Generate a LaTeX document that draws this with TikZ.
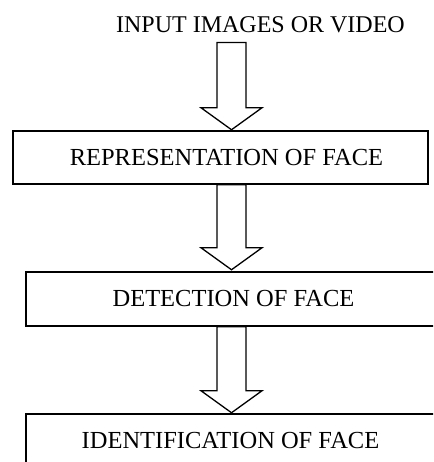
\documentclass[tikz,border=0pt]{standalone}
\usepackage{fontspec}
\setmainfont{Liberation Serif}
\usetikzlibrary{calc}
\tikzset{
  boxnode/.style={draw, line width=1.5pt, inner sep=0pt, font=\fontsize{24.5}{29}\selectfont},
  titlenode/.style={inner sep=0pt, font=\fontsize{24}{28}\selectfont},
  blockarr/.style={draw, line width=1.3pt, fill=white, line join=miter}
}
\newcommand\blockarrow[2]{%
  \draw[blockarr] ($(#1)+(-14.5,0)$) -- ($(#2)+(-14.5,-22)$) -- ($(#2)+(-30.5,-22)$) -- (#2)
    -- ($(#2)+(30.5,-22)$) -- ($(#2)+(14.5,-22)$) -- ($(#1)+(14.5,0)$) -- cycle;}
\begin{document}
\begin{tikzpicture}[x=1pt,y=-1pt]
\useasboundingbox (0,0) rectangle (433,462);
\clip (0,0) rectangle (433,462);
\coordinate (ax) at (231.5,0);
\node[titlenode, anchor=base] (title) at (260.5,32.5) {INPUT IMAGES OR VIDEO};
\node[boxnode, minimum width=415pt, minimum height=53pt] (b1) at (220.5,157.5) {\kern12pt REPRESENTATION OF FACE};
\node[boxnode, minimum width=415pt, minimum height=54pt] (b2) at (233.5,299) {DETECTION OF FACE};
\node[boxnode, minimum width=409pt, minimum height=54pt] (b3) at (230.5,441) {IDENTIFICATION OF FACE};
\coordinate (a1s) at ($(title.south -| ax)+(0,9.5)$);
\coordinate (a1e) at ($(b1.north -| ax)+(0,-0.5)$);
\coordinate (a2s) at (b1.south -| ax);
\coordinate (a2e) at ($(b2.north -| ax)+(0,-1.5)$);
\coordinate (a3s) at (b2.south -| ax);
\coordinate (a3e) at ($(b3.north -| ax)+(0,-0.5)$);
\blockarrow{a1s}{a1e}
\blockarrow{a2s}{a2e}
\blockarrow{a3s}{a3e}
\end{tikzpicture}
\end{document}
